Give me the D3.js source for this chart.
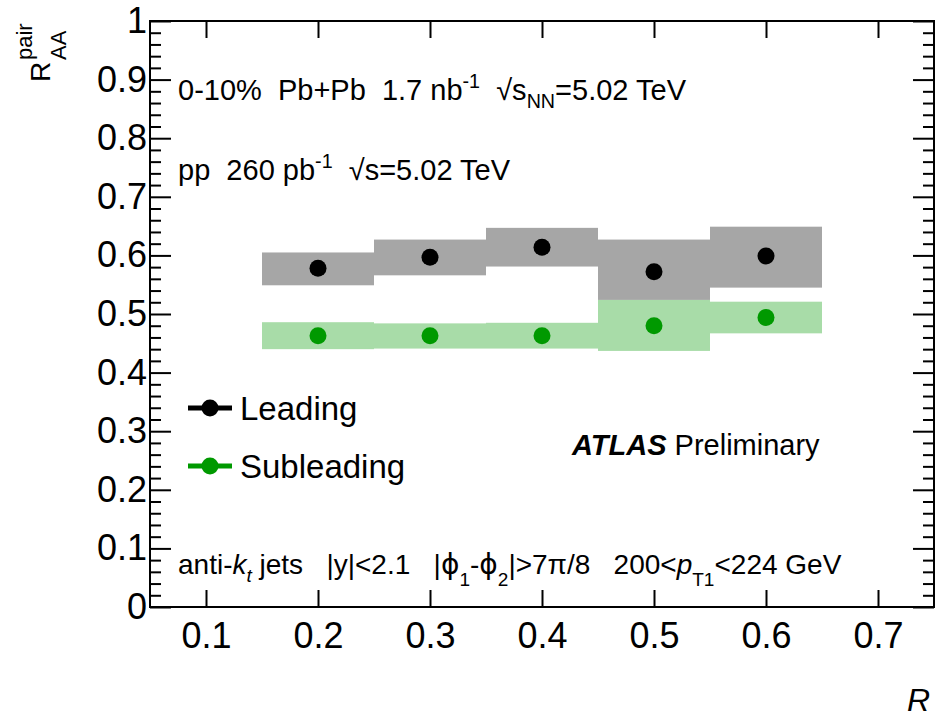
<!DOCTYPE html>
<html>
<head>
<meta charset="utf-8">
<script src="https://cdn.jsdelivr.net/npm/d3@7"></script>
<style>
  body { margin: 0; background: #fff; }
  svg { display: block; }
  text { font-family: "Liberation Sans", Arial, Helvetica, sans-serif; fill: #000; white-space: pre; }
</style>
</head>
<body>
<svg id="chart" width="937" height="718"></svg>
<script>
// Jet radius values and pair nuclear modification factors
const radii = [0.2, 0.3, 0.4, 0.5, 0.6];

const leadingVal   = [0.578, 0.597, 0.614, 0.572, 0.599];
const leadingSysLo = [0.549, 0.566, 0.581, 0.524, 0.545];
const leadingSysHi = [0.605, 0.627, 0.647, 0.627, 0.649];

const subleadVal   = [0.463, 0.463, 0.463, 0.480, 0.494];
const subleadSysLo = [0.440, 0.441, 0.441, 0.437, 0.467];
const subleadSysHi = [0.486, 0.484, 0.485, 0.524, 0.521];

const xTickValues = [0.1, 0.2, 0.3, 0.4, 0.5, 0.6, 0.7];
const xTickLabels = ["0.1", "0.2", "0.3", "0.4", "0.5", "0.6", "0.7"];
const yTickValues = [0, 0.1, 0.2, 0.3, 0.4, 0.5, 0.6, 0.7, 0.8, 0.9, 1];
const yTickLabels = ["0", "0.1", "0.2", "0.3", "0.4", "0.5", "0.6", "0.7", "0.8", "0.9", "1"];

const seriesNames = ["Leading", "Subleading"];

// ---- layout ----
const plot = { left: 150, right: 934, top: 21, bottom: 607 };
const boxHalfWidth = 0.05;
const markerR = 8.5;
const colors = {
  leadBox: "#a6a6a6", leadDot: "#000000",
  subBox: "#a8dca8", subDot: "#009900"
};

const svg = d3.select("#chart");

const x = d3.scaleLinear().domain([0.05, 0.75]).range([plot.left, plot.right]);
const y = d3.scaleLinear().domain([0, 1]).range([plot.bottom, plot.top]);

// ---- systematic boxes ----
function drawBoxes(lo, hi, fill) {
  svg.append("g").selectAll("rect")
    .data(radii)
    .join("rect")
    .attr("x", d => x(d - boxHalfWidth))
    .attr("width", d => x(d + boxHalfWidth) - x(d - boxHalfWidth))
    .attr("y", (d, i) => y(hi[i]))
    .attr("height", (d, i) => y(lo[i]) - y(hi[i]))
    .attr("fill", fill);
}
drawBoxes(leadingSysLo, leadingSysHi, colors.leadBox);
drawBoxes(subleadSysLo, subleadSysHi, colors.subBox);

// ---- points ----
function drawPoints(vals, fill) {
  svg.append("g").selectAll("circle")
    .data(radii)
    .join("circle")
    .attr("cx", d => x(d))
    .attr("cy", (d, i) => y(vals[i]))
    .attr("r", markerR)
    .attr("fill", fill);
}
drawPoints(leadingVal, colors.leadDot);
drawPoints(subleadVal, colors.subDot);

// ---- axes ----
const minorY = d3.range(0, 51).map(i => i / 50).filter(v => Math.round(v * 50) % 5 !== 0);

function styleAxis(g) {
  g.select(".domain").remove();
  g.selectAll(".tick line").attr("stroke", "#000").attr("stroke-width", 2);
}

// bottom
svg.append("g")
  .attr("transform", `translate(0,${plot.bottom})`)
  .call(d3.axisBottom(x).tickValues(xTickValues)
    .tickFormat((d, i) => xTickLabels[i]).tickSizeInner(-17).tickSizeOuter(0).tickPadding(15))
  .call(styleAxis)
  .call(g => g.selectAll("text").attr("font-size", 36).attr("font-family", null));

// top
svg.append("g")
  .attr("transform", `translate(0,${plot.top})`)
  .call(d3.axisTop(x).tickValues(xTickValues).tickFormat("").tickSizeInner(-17).tickSizeOuter(0))
  .call(styleAxis);

// left
svg.append("g")
  .attr("transform", `translate(${plot.left},0)`)
  .call(d3.axisLeft(y).tickValues(yTickValues)
    .tickFormat((d, i) => yTickLabels[i]).tickSizeInner(-21).tickSizeOuter(0).tickPadding(3))
  .call(styleAxis)
  .call(g => g.selectAll("text").attr("font-size", 36).attr("font-family", null));
svg.append("g")
  .attr("transform", `translate(${plot.left},0)`)
  .call(d3.axisLeft(y).tickValues(minorY).tickFormat("").tickSizeInner(-11).tickSizeOuter(0))
  .call(styleAxis);

// right
svg.append("g")
  .attr("transform", `translate(${plot.right},0)`)
  .call(d3.axisRight(y).tickValues(yTickValues).tickFormat("").tickSizeInner(-21).tickSizeOuter(0))
  .call(styleAxis);
svg.append("g")
  .attr("transform", `translate(${plot.right},0)`)
  .call(d3.axisRight(y).tickValues(minorY).tickFormat("").tickSizeInner(-11).tickSizeOuter(0))
  .call(styleAxis);

// frame
svg.append("rect")
  .attr("x", plot.left).attr("y", plot.top)
  .attr("width", plot.right - plot.left).attr("height", plot.bottom - plot.top)
  .attr("fill", "none").attr("stroke", "#000").attr("stroke-width", 2);

// ---- rich text helper: parts with optional sup/sub/italic/bold ----
function richText(px, py, size, parts, anchor) {
  const t = svg.append("text").attr("x", px).attr("y", py)
    .attr("font-size", size).attr("text-anchor", anchor || "start");
  let shift = 0;
  parts.forEach(p => {
    const s = t.append("tspan").text(p.t);
    let target = 0, fs = size;
    if (p.sup) { target = -0.42 * size; fs = size * 0.68; }
    if (p.sub) { target = 0.28 * size; fs = size * 0.68; }
    if (p.sub2) { target = 0.42 * size; fs = size * 0.68; }
    s.attr("font-size", fs).attr("dy", target - shift);
    shift = target;
    if (p.i) s.attr("font-style", "italic");
    if (p.b) s.attr("font-weight", "bold");
    if (p.f) s.attr("font-family", p.f);
  });
  return t;
}

// axis titles
const yTitle = svg.append("g").attr("transform", "translate(50,82) rotate(-90)");
yTitle.append("text").attr("x", 0).attr("y", 0).attr("font-size", 28).text("R");
yTitle.append("text").attr("x", 22).attr("y", -18).attr("font-size", 22).text("pair");
yTitle.append("text").attr("x", 22).attr("y", 16).attr("font-size", 22).text("AA");

svg.append("text").attr("x", 930).attr("y", 711).attr("font-size", 32)
  .attr("font-style", "italic").attr("text-anchor", "end").text("R");

// annotations
richText(178, 100, 29, [
  { t: "0-10%  Pb+Pb  1.7 nb" }, { t: "-1", sup: true },
  { t: "  √s" }, { t: "NN", sub: true }, { t: "=5.02 TeV" }
]);
richText(178, 180, 29, [
  { t: "pp  260 pb" }, { t: "-1", sup: true },
  { t: "  √s=5.02 TeV" }
]);
const phiFont = "DejaVu Sans";
richText(178, 574, 28, [
  { t: "anti-" }, { t: "k", i: true }, { t: "t", i: true, sub: true },
  { t: " jets   |y|<2.1   |" }, { t: "ϕ", f: phiFont }, { t: "1", sub2: true },
  { t: "-" }, { t: "ϕ", f: phiFont }, { t: "2", sub2: true },
  { t: "|>7π/8   200<" }, { t: "p", i: true }, { t: "T1", sub2: true }, { t: "<224 GeV" }
]);
richText(572, 455, 29, [
  { t: "ATLAS", b: true, i: true }, { t: " Preliminary" }
]);

// legend
const legendRows = [
  { name: seriesNames[0], color: colors.leadDot, cy: 408 },
  { name: seriesNames[1], color: colors.subDot, cy: 466 }
];
const lg = svg.append("g");
legendRows.forEach(r => {
  lg.append("line").attr("x1", 188).attr("x2", 232).attr("y1", r.cy).attr("y2", r.cy)
    .attr("stroke", r.color).attr("stroke-width", 5);
  lg.append("circle").attr("cx", 210).attr("cy", r.cy).attr("r", markerR).attr("fill", r.color);
  lg.append("text").attr("x", 240).attr("y", r.cy + 12).attr("font-size", 33).text(r.name);
});
</script>
</body>
</html>
